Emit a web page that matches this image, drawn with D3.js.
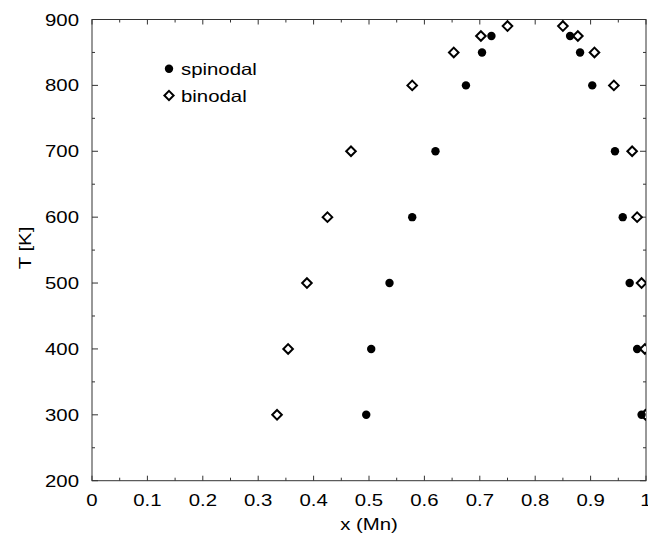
<!DOCTYPE html>
<html><head><meta charset="utf-8">
<script src="https://cdn.jsdelivr.net/npm/d3@7"></script>
<style>body{margin:0;background:#fff}svg{display:block}text{font-family:"Liberation Sans",Arial,sans-serif;fill:#000}</style>
</head><body><svg id="c" width="648" height="538"></svg>
<script>
const spinodalT = [300,400,500,600,700,800,850,875];
const spinodalLeft = [0.495,0.504,0.537,0.578,0.620,0.675,0.704,0.721];
const spinodalRight = [0.992,0.984,0.9705,0.958,0.944,0.903,0.881,0.863];
const binodalT = [300,400,500,600,700,800,850,875,890];
const binodalLeft = [0.334,0.354,0.388,0.425,0.4675,0.578,0.653,0.702,0.750];
const binodalRight = [0.999,0.998,0.992,0.984,0.975,0.942,0.907,0.877,0.850];
const xTicks = [0,0.1,0.2,0.3,0.4,0.5,0.6,0.7,0.8,0.9,1];
const yTicks = [200,300,400,500,600,700,800,900];
const xTickLabels = ["0","0.1","0.2","0.3","0.4","0.5","0.6","0.7","0.8","0.9","1"];

const L=92,R=646,T=19.5,B=480.7;
const FS=16.3, SX=1.25;
const svg=d3.select("#c");
const x=d3.scaleLinear().domain([0,1]).range([L,R]);
const y=d3.scaleLinear().domain([200,900]).range([B,T]);

function txt(px,py,s,anchor,rot){
  return svg.append("text").attr("transform",`translate(${px},${py})${rot?" rotate(-90)":""} scale(${SX},1)`)
    .attr("text-anchor",anchor||"start").attr("font-size",FS).text(s);
}

const xMinor=d3.range(0.05,1,0.1);
const yMinor=d3.range(250,900,100);
const ax="#333";
const g=svg.append("g");
g.append("rect").attr("x",L).attr("y",T).attr("width",R-L).attr("height",B-T).attr("fill","none").attr("stroke",ax).attr("stroke-width",1);
const tk=g.append("g").attr("stroke",ax).attr("stroke-width",1);
xTicks.forEach(v=>{tk.append("line").attr("x1",x(v)).attr("x2",x(v)).attr("y1",B).attr("y2",B-5);
  tk.append("line").attr("x1",x(v)).attr("x2",x(v)).attr("y1",T).attr("y2",T+5);});
xMinor.forEach(v=>{tk.append("line").attr("x1",x(v)).attr("x2",x(v)).attr("y1",B).attr("y2",B-3);
  tk.append("line").attr("x1",x(v)).attr("x2",x(v)).attr("y1",T).attr("y2",T+3);});
yTicks.forEach(v=>{tk.append("line").attr("y1",y(v)).attr("y2",y(v)).attr("x1",L).attr("x2",L+6);
  tk.append("line").attr("y1",y(v)).attr("y2",y(v)).attr("x1",R).attr("x2",R-6);});
yMinor.forEach(v=>{tk.append("line").attr("y1",y(v)).attr("y2",y(v)).attr("x1",L).attr("x2",L+3);
  tk.append("line").attr("y1",y(v)).attr("y2",y(v)).attr("x1",R).attr("x2",R-3);});

xTicks.forEach((v,i)=>txt(x(v),506,xTickLabels[i],"middle"));
yTicks.forEach(v=>txt(79,y(v)+6,v,"end"));
txt(369,530,"x (Mn)","middle");
txt(31,248,"T [K]","middle",true);

svg.append("clipPath").attr("id","clp").append("rect").attr("x",L-10).attr("y",T-10).attr("width",R-L+10).attr("height",B-T+20);
const pts=svg.append("g").attr("clip-path","url(#clp)");
const sp=[];spinodalT.forEach((t,i)=>{sp.push([spinodalLeft[i],t]);sp.push([spinodalRight[i],t]);});
const bi=[];binodalT.forEach((t,i)=>{bi.push([binodalLeft[i],t]);bi.push([binodalRight[i],t]);});
const diamond=(cx,cy,s)=>`M${cx},${cy-s}L${cx+s},${cy}L${cx},${cy+s}L${cx-s},${cy}Z`;
pts.selectAll(".b").data(bi).join("path").attr("d",d=>diamond(x(d[0]),y(d[1]),4.8)).attr("fill","#fff").attr("stroke","#000").attr("stroke-width",2);
pts.selectAll(".s").data(sp).join("circle").attr("cx",d=>x(d[0])).attr("cy",d=>y(d[1])).attr("r",4.2).attr("fill","#000");
svg.append("circle").attr("cx",169).attr("cy",68.7).attr("r",4.2).attr("fill","#000");
svg.append("path").attr("d",diamond(169,95.5,4.6)).attr("fill","#fff").attr("stroke","#000").attr("stroke-width",2);
txt(181,75,"spinodal");
txt(181,102,"binodal");
</script></body></html>
